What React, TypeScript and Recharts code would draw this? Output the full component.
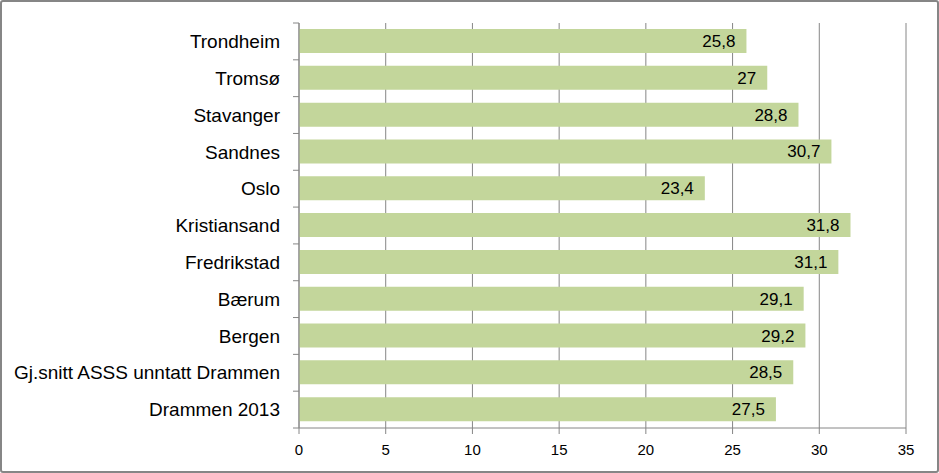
import {
	Bar,
	BarChart,
	CartesianGrid,
	LabelList,
	XAxis,
	YAxis,
} from "recharts";

const CITIES = [
	"Trondheim",
	"Tromsø",
	"Stavanger",
	"Sandnes",
	"Oslo",
	"Kristiansand",
	"Fredrikstad",
	"Bærum",
	"Bergen",
	"Gj.snitt ASSS unntatt Drammen",
	"Drammen 2013",
];
const VALUES = [25.8, 27, 28.8, 30.7, 23.4, 31.8, 31.1, 29.1, 29.2, 28.5, 27.5];
const X_TICKS = [0, 5, 10, 15, 20, 25, 30, 35];

const data = CITIES.map((city, i) => ({ city, value: VALUES[i] }));

const FONT = "'Liberation Sans', Arial, sans-serif";
const GREY = "#868686";
const BAR = "#C3D69B";

const X_AXIS_H = 30;
const MARGIN = { top: 23, right: 33, bottom: 45 - X_AXIS_H, left: 0 };
const CHART_H = 473;
const BAND = (CHART_H - 23 - 45) / CITIES.length;

const commaFmt = (v: number) => String(v).replace(".", ",");

// category label plus a tick mark between categories (Excel style)
function CityTick(props: any) {
	const { x, y, payload, index } = props;
	const ax = x + 19;
	return (
		<g>
			<line x1={ax - 6} x2={ax} y1={y - BAND / 2} y2={y - BAND / 2} stroke={GREY} />
			{index === CITIES.length - 1 && (
				<line x1={ax - 6} x2={ax} y1={y + BAND / 2} y2={y + BAND / 2} stroke={GREY} />
			)}
			<text
				x={x}
				y={y}
				dy="0.35em"
				textAnchor="end"
				fill="#000"
				fontSize={19}
				fontFamily={FONT}
			>
				{payload.value}
			</text>
		</g>
	);
}

export default function App() {
	return (
		<div
			style={{
				position: "fixed",
				left: 0,
				top: 0,
				width: 939,
				height: CHART_H,
				background: "#fff",
			}}
		>
			<BarChart
				width={939}
				height={CHART_H}
				data={data}
				layout="vertical"
				margin={MARGIN}
			>
				<CartesianGrid horizontal={false} stroke={GREY} />
				<XAxis
					type="number"
					domain={[0, 35]}
					ticks={X_TICKS}
					interval={0}
					height={X_AXIS_H}
					stroke={GREY}
					tickSize={6}
					tickMargin={10}
					tick={{ fill: "#000", fontSize: 15, fontFamily: FONT }}
				/>
				<YAxis
					type="category"
					dataKey="city"
					width={299}
					stroke={GREY}
					tickLine={false}
					tickSize={0}
					tickMargin={19}
					interval={0}
					tick={<CityTick />}
				/>
				<Bar dataKey="value" fill={BAR} barSize={24} isAnimationActive={false}>
					<LabelList
						dataKey="value"
						position="insideRight"
						offset={11}
						formatter={(v: any) => commaFmt(v)}
						fill="#000"
						fontSize={17}
						fontFamily={FONT}
					/>
				</Bar>
			</BarChart>
			<div
				style={{
					position: "absolute",
					inset: 0,
					border: `2px solid ${GREY}`,
					borderRadius: 3,
					pointerEvents: "none",
				}}
			/>
		</div>
	);
}
